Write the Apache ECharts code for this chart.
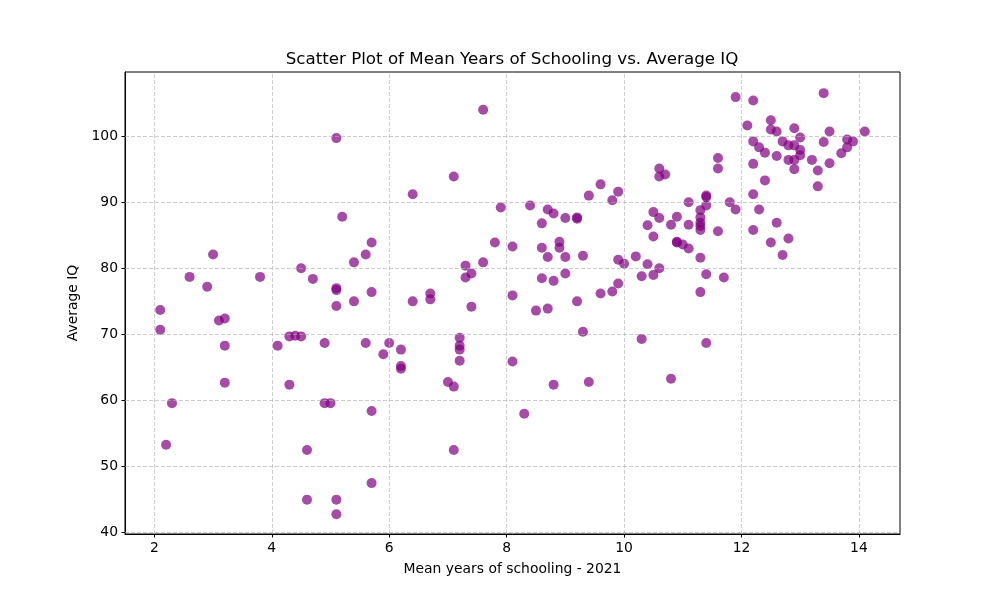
<!DOCTYPE html>
<html>
<head>
<meta charset="utf-8">
<script src="https://cdn.jsdelivr.net/npm/echarts@6/dist/echarts.min.js"></script>
<style>html,body{margin:0;padding:0;background:#fff}#c{width:1000px;height:600px}</style>
</head>
<body>
<div id="c"></div>
<script>
const schoolingYears = [
  2.1, 2.1, 2.2, 2.3, 2.6, 2.9, 3.0, 3.1, 3.2, 3.2, 3.2, 3.8, 4.1, 4.3, 4.3, 4.4, 4.5, 4.5, 4.6, 4.6,
  4.7, 4.9, 4.9, 5.0, 5.1, 5.1, 5.1, 5.1, 5.1, 5.1, 5.2, 5.4, 5.4, 5.6, 5.6, 5.7, 5.7, 5.7, 5.7, 5.9,
  6.0, 6.2, 6.2, 6.2, 6.4, 6.4, 6.7, 6.7, 7.0, 7.1, 7.1, 7.1, 7.2, 7.2, 7.2, 7.2, 7.3, 7.3, 7.4, 7.4,
  7.6, 7.6, 7.8, 7.9, 8.1, 8.1, 8.1, 8.3, 8.4, 8.5, 8.6, 8.6, 8.6, 8.7, 8.7, 8.7, 8.8, 8.8, 8.8, 8.9,
  8.9, 9.0, 9.0, 9.0, 9.2, 9.2, 9.2, 9.3, 9.3, 9.4, 9.4, 9.6, 9.6, 9.8, 9.8, 9.9, 9.9, 9.9, 10.0, 10.2,
  10.3, 10.3, 10.4, 10.4, 10.5, 10.5, 10.5, 10.6, 10.6, 10.6, 10.6, 10.7, 10.8, 10.8, 10.9, 10.9, 10.9, 11.0, 11.1, 11.1,
  11.1, 11.3, 11.3, 11.3, 11.3, 11.3, 11.3, 11.3, 11.4, 11.4, 11.4, 11.4, 11.4, 11.6, 11.6, 11.6, 11.7, 11.8, 11.9, 11.9,
  12.1, 12.2, 12.2, 12.2, 12.2, 12.2, 12.3, 12.3, 12.4, 12.4, 12.5, 12.5, 12.5, 12.6, 12.6, 12.6, 12.7, 12.7, 12.8, 12.8,
  12.8, 12.9, 12.9, 12.9, 12.9, 13.0, 13.0, 13.0, 13.2, 13.3, 13.3, 13.4, 13.4, 13.5, 13.5, 13.7, 13.8, 13.8, 13.9, 14.1
];
const averageIQ = [
  73.7, 70.7, 53.3, 59.6, 78.7, 77.2, 82.1, 72.1, 72.4, 68.3, 62.7, 78.7, 68.3, 69.7, 62.4, 69.8, 69.7, 80.0, 52.5, 45.0,
  78.4, 68.7, 59.6, 59.6, 99.7, 77.0, 76.7, 74.3, 45.0, 42.8, 87.8, 80.9, 75.0, 82.1, 68.7, 83.9, 76.4, 58.4, 47.5, 67.0,
  68.7, 67.7, 65.2, 64.8, 91.2, 75.0, 76.2, 75.3, 62.8, 93.9, 62.1, 52.5, 69.5, 68.3, 67.7, 66.0, 80.4, 78.6, 79.2, 74.2,
  104.0, 80.9, 83.9, 89.2, 83.3, 75.9, 65.9, 58.0, 89.5, 73.6, 86.8, 83.1, 78.5, 88.9, 81.7, 73.9, 88.3, 78.1, 62.4, 84.0,
  83.1, 87.6, 81.7, 79.2, 87.7, 87.5, 75.0, 81.9, 70.4, 91.0, 62.8, 92.7, 76.2, 90.3, 76.5, 91.6, 81.3, 77.7, 80.7, 81.8,
  78.8, 69.3, 86.5, 80.6, 88.5, 84.8, 79.0, 95.1, 93.9, 87.6, 80.0, 94.2, 86.6, 63.3, 87.8, 84.0, 83.9, 83.6, 90.0, 86.6,
  83.0, 88.8, 87.7, 86.9, 86.4, 85.8, 81.6, 76.4, 91.0, 90.8, 89.5, 79.1, 68.7, 96.7, 95.1, 85.6, 78.6, 90.0, 105.9, 88.9,
  101.6, 105.4, 99.2, 95.8, 91.2, 85.8, 98.3, 88.9, 97.5, 93.3, 102.4, 101.0, 83.9, 100.7, 97.0, 86.9, 99.2, 82.0, 98.6, 96.4,
  84.5, 101.2, 98.6, 96.4, 95.0, 99.8, 97.9, 97.1, 96.4, 94.8, 92.4, 106.5, 99.1, 100.7, 95.9, 97.4, 99.5, 98.3, 99.2, 100.7
];
const xTicks = [2, 4, 6, 8, 10, 12, 14];
const yTicks = [40, 50, 60, 70, 80, 90, 100];

const points = schoolingYears.map((x, i) => [x, averageIQ[i]]);
const FONT = 'DejaVu Sans';

const chart = echarts.init(document.getElementById('c'));
chart.setOption({
  animation: false,
  backgroundColor: '#fff',
  title: {
    text: 'Scatter Plot of Mean Years of Schooling vs. Average IQ',
    left: 507, top: 46, textAlign: 'center',
    textStyle: { fontFamily: FONT, fontSize: 16.7, fontWeight: 'normal', color: '#000' }
  },
  grid: {
    left: 125, right: 100, top: 72, bottom: 66,
    show: true, borderColor: '#000', borderWidth: 1, backgroundColor: 'transparent'
  },
  xAxis: {
    type: 'value', min: 1.5, max: 14.7,
    name: 'Mean years of schooling - 2021', nameLocation: 'middle', nameGap: 28,
    nameTextStyle: { fontFamily: FONT, fontSize: 13.9, color: '#000' },
    axisLine: { show: true, onZero: false, lineStyle: { color: '#000', width: 1 } },
    axisTick: { show: true, customValues: xTicks, length: 3.5, lineStyle: { color: '#000' } },
    axisLabel: { customValues: xTicks, fontFamily: FONT, fontSize: 13.9, color: '#000', margin: 7 },
    splitLine: { show: false }
  },
  yAxis: {
    type: 'value', min: 39.8, max: 109.7,
    name: 'Average IQ', nameLocation: 'middle', nameGap: 42, nameRotate: 90,
    nameTextStyle: { fontFamily: FONT, fontSize: 13.9, color: '#000' },
    axisLine: { show: true, onZero: false, lineStyle: { color: '#000', width: 1 } },
    axisTick: { show: true, customValues: yTicks, length: 3.5, lineStyle: { color: '#000' } },
    axisLabel: { customValues: yTicks, fontFamily: FONT, fontSize: 13.9, color: '#000', margin: 7 },
    splitLine: { show: false }
  },
  series: [
    {
      type: 'scatter',
      data: points,
      symbolSize: 10,
      itemStyle: { color: '#800080', opacity: 0.7 },
      markLine: {
        silent: true,
        symbol: ['none', 'none'],
        label: { show: false },
        animation: false,
        lineStyle: { type: [4, 2], color: '#b0b0b0', width: 0.8, opacity: 0.8 },
        emphasis: { disabled: true },
        data: xTicks.map(v => ({ xAxis: v })).concat(yTicks.map(v => ({ yAxis: v })))
      }
    }
  ]
});
</script>
</body>
</html>
